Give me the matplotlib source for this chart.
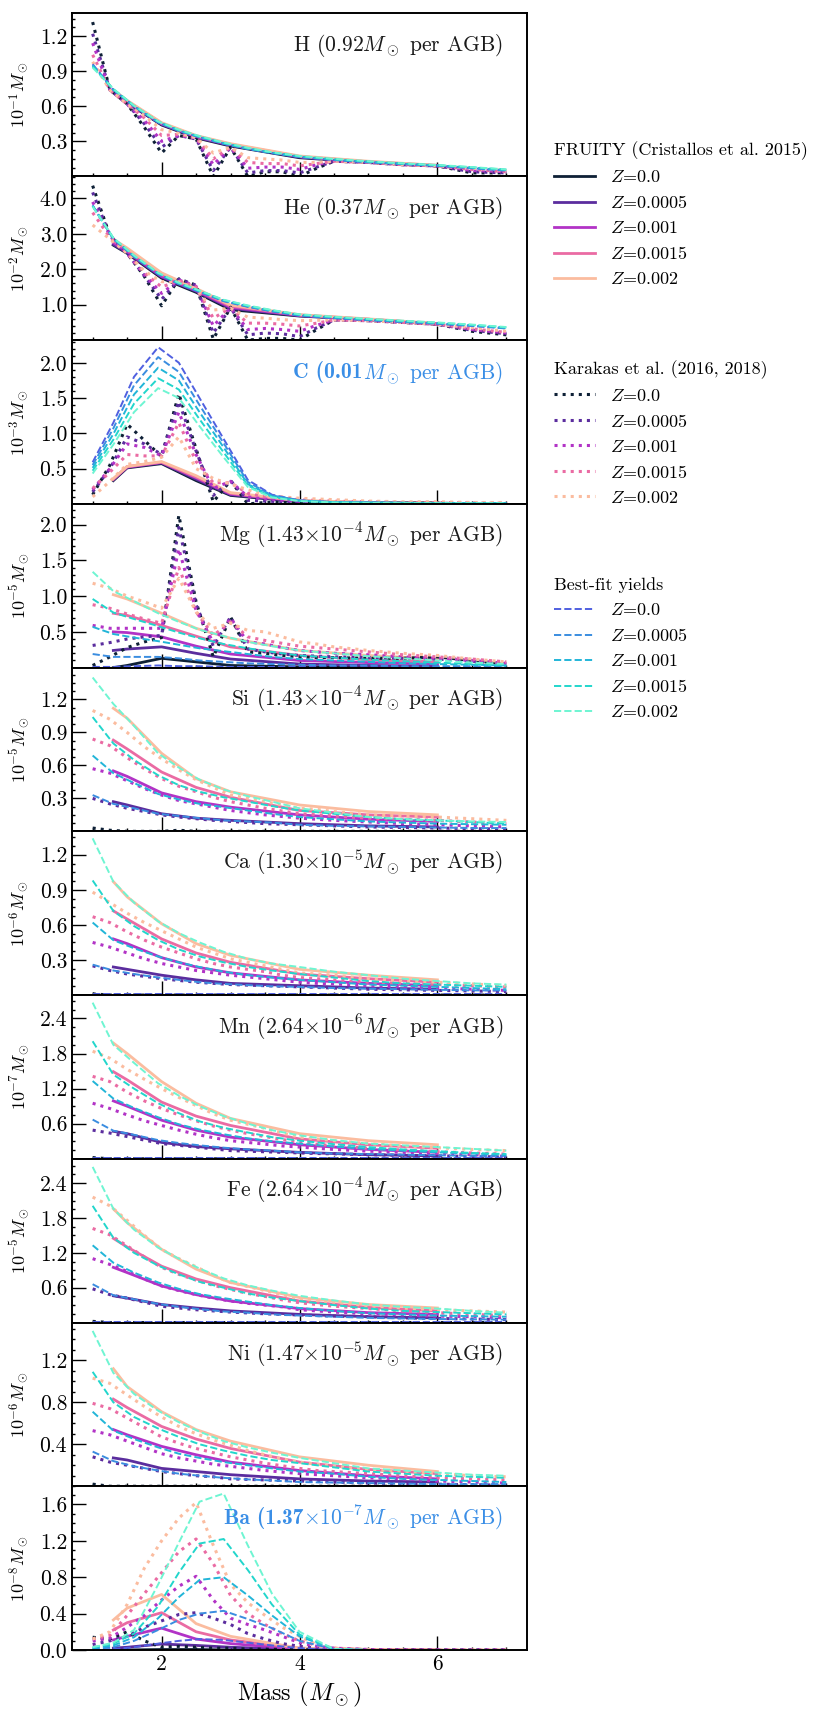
import matplotlib
matplotlib.use("Agg")
import matplotlib.pyplot as plt
from matplotlib.lines import Line2D
from matplotlib.ticker import AutoMinorLocator, FormatStrFormatter

plt.rcParams['font.family'] = ['cmr10', 'DejaVu Serif']
plt.rcParams['mathtext.fontset'] = 'cm'
plt.rcParams['axes.unicode_minus'] = False
plt.rcParams['axes.linewidth'] = 1.4

# mass grids
masses_fruity = [1.3, 1.5, 2.0, 2.5, 3.0, 4.0, 5.0, 6.0]
masses_karakas = [1.0, 1.25, 1.5, 1.75, 2.0, 2.25, 2.5, 2.75, 3.0, 3.25,
                  3.5, 3.75, 4.0, 4.25, 4.5, 5.0, 5.5, 6.0, 6.5, 7.0]
masses_fit = [1.0, 1.3, 1.6, 1.95, 2.25, 2.55, 2.9, 3.25, 3.6, 4.0,
              4.5, 5.0, 5.5, 6.0, 6.5, 7.0]
metallicities = ['0.0', '0.0005', '0.001', '0.0015', '0.002']

# ---- H (10^-1 Msun)
h_fruity = [
    [0.72, 0.63, 0.44, 0.33, 0.26, 0.16, 0.12, 0.09],
    [0.72, 0.63, 0.445, 0.335, 0.265, 0.165, 0.12, 0.09],
    [0.73, 0.64, 0.45, 0.34, 0.27, 0.17, 0.125, 0.09],
    [0.73, 0.645, 0.455, 0.345, 0.275, 0.17, 0.125, 0.095],
    [0.74, 0.65, 0.46, 0.35, 0.28, 0.175, 0.13, 0.095],
]
h_karakas = [
    [1.32, 0.74, 0.62, 0.42, 0.2, 0.35, 0.32, 0.0, 0.25, 0.0, 0.04, 0.04, 0.0, 0.07, 0.13, 0.12, 0.1, 0.09, 0.03, 0.03],
    [1.22, 0.74, 0.62, 0.45, 0.25, 0.35, 0.32, 0.05, 0.25, 0.03, 0.05, 0.05, 0.03, 0.08, 0.13, 0.12, 0.1, 0.09, 0.04, 0.03],
    [1.14, 0.74, 0.62, 0.48, 0.3, 0.35, 0.33, 0.1, 0.25, 0.07, 0.08, 0.08, 0.06, 0.1, 0.13, 0.12, 0.1, 0.09, 0.05, 0.04],
    [1.04, 0.74, 0.62, 0.5, 0.35, 0.36, 0.33, 0.15, 0.25, 0.12, 0.11, 0.11, 0.09, 0.11, 0.13, 0.12, 0.1, 0.09, 0.06, 0.04],
    [0.98, 0.74, 0.62, 0.52, 0.4, 0.37, 0.33, 0.2, 0.25, 0.16, 0.15, 0.14, 0.12, 0.12, 0.13, 0.12, 0.1, 0.09, 0.07, 0.05],
]
h_fit = [
    [0.96, 0.74, 0.6, 0.46, 0.39, 0.335, 0.28, 0.235, 0.2, 0.165, 0.14, 0.12, 0.105, 0.09, 0.07, 0.05],
    [0.95, 0.74, 0.6, 0.465, 0.39, 0.335, 0.28, 0.235, 0.2, 0.168, 0.142, 0.122, 0.107, 0.092, 0.072, 0.052],
    [0.95, 0.745, 0.6, 0.465, 0.395, 0.34, 0.285, 0.24, 0.203, 0.17, 0.145, 0.125, 0.108, 0.094, 0.075, 0.055],
    [0.94, 0.745, 0.605, 0.47, 0.395, 0.34, 0.285, 0.24, 0.205, 0.172, 0.147, 0.127, 0.11, 0.096, 0.078, 0.058],
    [0.93, 0.75, 0.605, 0.47, 0.4, 0.345, 0.29, 0.245, 0.207, 0.175, 0.15, 0.13, 0.112, 0.098, 0.08, 0.06],
]

# ---- He (10^-2 Msun)
he_fruity = [
    [2.68, 2.45, 1.75, 1.35, 0.86, 0.68, 0.58, 0.45],
    [2.7, 2.47, 1.78, 1.38, 0.9, 0.69, 0.58, 0.45],
    [2.75, 2.5, 1.8, 1.4, 0.93, 0.7, 0.59, 0.46],
    [2.8, 2.55, 1.85, 1.43, 0.96, 0.71, 0.59, 0.46],
    [2.85, 2.6, 1.9, 1.46, 0.99, 0.72, 0.6, 0.47],
]
he_karakas = [
    [4.36, 2.95, 2.45, 1.8, 0.97, 1.73, 1.55, 0.03, 0.93, 0.0, 0.05, 0.05, 0.0, 0.3, 0.57, 0.55, 0.5, 0.45, 0.25, 0.15],
    [4.17, 2.95, 2.45, 1.82, 1.15, 1.72, 1.55, 0.2, 0.92, 0.15, 0.2, 0.18, 0.1, 0.35, 0.57, 0.55, 0.5, 0.45, 0.28, 0.18],
    [3.9, 2.95, 2.45, 1.85, 1.32, 1.7, 1.52, 0.4, 0.92, 0.3, 0.33, 0.3, 0.25, 0.42, 0.57, 0.55, 0.5, 0.45, 0.3, 0.2],
    [3.6, 2.9, 2.45, 1.9, 1.5, 1.68, 1.5, 0.62, 0.91, 0.48, 0.48, 0.45, 0.4, 0.48, 0.57, 0.55, 0.5, 0.45, 0.32, 0.22],
    [3.25, 2.85, 2.45, 1.95, 1.65, 1.65, 1.45, 0.85, 0.9, 0.65, 0.62, 0.58, 0.55, 0.56, 0.57, 0.55, 0.5, 0.45, 0.35, 0.25],
]
he_fit = [
    [3.8, 2.85, 2.35, 1.86, 1.58, 1.36, 1.1, 0.94, 0.81, 0.69, 0.62, 0.56, 0.51, 0.46, 0.4, 0.33],
    [3.8, 2.86, 2.36, 1.87, 1.59, 1.37, 1.11, 0.95, 0.82, 0.7, 0.63, 0.57, 0.52, 0.47, 0.41, 0.34],
    [3.79, 2.87, 2.37, 1.88, 1.6, 1.38, 1.12, 0.96, 0.83, 0.71, 0.64, 0.58, 0.53, 0.48, 0.42, 0.35],
    [3.78, 2.88, 2.38, 1.89, 1.61, 1.39, 1.13, 0.97, 0.84, 0.72, 0.65, 0.59, 0.54, 0.49, 0.43, 0.36],
    [3.77, 2.89, 2.39, 1.9, 1.62, 1.4, 1.14, 0.98, 0.85, 0.73, 0.66, 0.6, 0.55, 0.5, 0.44, 0.37],
]

# ---- C (10^-3 Msun)
c_fruity = [
    [0.33, 0.51, 0.57, 0.33, 0.12, 0.03, 0.015, 0.01],
    [0.34, 0.52, 0.58, 0.35, 0.13, 0.035, 0.015, 0.01],
    [0.35, 0.52, 0.59, 0.37, 0.14, 0.04, 0.02, 0.01],
    [0.35, 0.53, 0.59, 0.38, 0.15, 0.04, 0.02, 0.01],
    [0.36, 0.53, 0.6, 0.4, 0.16, 0.05, 0.02, 0.015],
]
c_karakas = [
    [0.13, 0.55, 1.13, 0.9, 0.67, 1.56, 0.78, 0.03, 0.33, 0.0, 0.02, 0.02, 0.01, 0.01, 0.01, 0.01, 0.01, 0.01, 0.0, 0.0],
    [0.17, 0.5, 0.95, 0.85, 0.7, 1.45, 0.75, 0.12, 0.33, 0.05, 0.04, 0.03, 0.02, 0.02, 0.02, 0.01, 0.01, 0.01, 0.01, 0.0],
    [0.2, 0.5, 0.85, 0.8, 0.68, 1.3, 0.7, 0.22, 0.32, 0.1, 0.07, 0.05, 0.04, 0.03, 0.02, 0.02, 0.01, 0.01, 0.01, 0.01],
    [0.22, 0.45, 0.7, 0.68, 0.68, 1.15, 0.6, 0.3, 0.3, 0.15, 0.1, 0.08, 0.06, 0.05, 0.04, 0.03, 0.02, 0.02, 0.01, 0.01],
    [0.1, 0.32, 0.56, 0.6, 0.66, 0.95, 0.5, 0.36, 0.28, 0.2, 0.13, 0.1, 0.08, 0.07, 0.06, 0.04, 0.03, 0.03, 0.02, 0.02],
]
c_fit = [
    [0.59, 1.15, 1.8, 2.22, 2.0, 1.5, 0.92, 0.34, 0.13, 0.05, 0.025, 0.02, 0.015, 0.01, 0.01, 0.01],
    [0.55, 1.07, 1.68, 2.08, 1.87, 1.4, 0.86, 0.31, 0.12, 0.05, 0.025, 0.02, 0.015, 0.01, 0.01, 0.01],
    [0.51, 0.99, 1.55, 1.93, 1.75, 1.3, 0.8, 0.28, 0.11, 0.045, 0.025, 0.02, 0.015, 0.01, 0.01, 0.01],
    [0.47, 0.91, 1.42, 1.78, 1.62, 1.2, 0.73, 0.26, 0.1, 0.04, 0.02, 0.015, 0.015, 0.01, 0.01, 0.01],
    [0.43, 0.84, 1.3, 1.64, 1.5, 1.1, 0.66, 0.24, 0.09, 0.04, 0.02, 0.015, 0.01, 0.01, 0.01, 0.01],
]

# ---- Mg (10^-5 Msun)
mg_fruity = [
    [0.0, 0.03, 0.13, 0.08, 0.03, 0.01, 0.005, 0.005],
    [0.24, 0.26, 0.29, 0.2, 0.12, 0.05, 0.03, 0.02],
    [0.5, 0.49, 0.43, 0.3, 0.19, 0.1, 0.07, 0.05],
    [0.76, 0.73, 0.59, 0.44, 0.29, 0.17, 0.11, 0.08],
    [1.02, 0.96, 0.76, 0.55, 0.41, 0.24, 0.17, 0.12],
]
mg_karakas = [
    [0.03, 0.15, 0.28, 0.36, 0.42, 2.13, 0.92, 0.15, 0.71, 0.22, 0.2, 0.17, 0.15, 0.14, 0.14, 0.13, 0.13, 0.15, 0.1, 0.05],
    [0.31, 0.35, 0.4, 0.43, 0.45, 1.96, 0.88, 0.3, 0.71, 0.26, 0.22, 0.19, 0.17, 0.16, 0.15, 0.14, 0.13, 0.12, 0.09, 0.05],
    [0.59, 0.55, 0.55, 0.55, 0.55, 1.66, 0.8, 0.35, 0.69, 0.36, 0.33, 0.28, 0.24, 0.22, 0.2, 0.18, 0.15, 0.13, 0.1, 0.06],
    [0.88, 0.83, 0.75, 0.68, 0.62, 1.4, 0.78, 0.45, 0.64, 0.43, 0.38, 0.34, 0.3, 0.28, 0.26, 0.22, 0.18, 0.15, 0.12, 0.08],
    [1.18, 1.11, 1.0, 0.92, 0.83, 1.25, 0.78, 0.55, 0.62, 0.52, 0.5, 0.43, 0.36, 0.33, 0.29, 0.24, 0.2, 0.17, 0.12, 0.08],
]
mg_fit = [
    [0.01, 0.01, 0.02, 0.03, 0.02, 0.02, 0.01, 0.01, 0.01, 0.01, 0.005, 0.005, 0.005, 0.005, 0.005, 0.005],
    [0.19, 0.15, 0.15, 0.15, 0.13, 0.1, 0.08, 0.06, 0.05, 0.04, 0.03, 0.03, 0.02, 0.02, 0.02, 0.01],
    [0.57, 0.47, 0.42, 0.37, 0.32, 0.27, 0.23, 0.19, 0.15, 0.12, 0.1, 0.08, 0.06, 0.05, 0.04, 0.03],
    [0.96, 0.77, 0.68, 0.58, 0.49, 0.41, 0.33, 0.27, 0.22, 0.17, 0.14, 0.11, 0.09, 0.07, 0.05, 0.03],
    [1.34, 1.07, 0.93, 0.76, 0.64, 0.53, 0.44, 0.36, 0.3, 0.24, 0.2, 0.16, 0.13, 0.1, 0.07, 0.05],
]

# ---- Si (10^-5 Msun)
si_fruity = [
    [0.0, 0.0, 0.0, 0.0, 0.0, 0.0, 0.0, 0.0],
    [0.27, 0.24, 0.16, 0.12, 0.1, 0.07, 0.05, 0.04],
    [0.55, 0.5, 0.35, 0.27, 0.22, 0.15, 0.11, 0.09],
    [0.83, 0.75, 0.54, 0.4, 0.31, 0.19, 0.15, 0.13],
    [1.12, 1.03, 0.71, 0.48, 0.36, 0.24, 0.18, 0.15],
]
si_karakas = [
    [0.03, 0.01, 0.0, 0.0, 0.0, 0.01, 0.0, 0.0, 0.0, 0.0, 0.0, 0.0, 0.0, 0.0, 0.0, 0.0, 0.0, 0.0, 0.0, 0.0],
    [0.3, 0.25, 0.21, 0.18, 0.15, 0.13, 0.115, 0.1, 0.09, 0.08, 0.07, 0.065, 0.06, 0.055, 0.05, 0.04, 0.035, 0.03, 0.025, 0.02],
    [0.57, 0.53, 0.46, 0.39, 0.33, 0.28, 0.25, 0.22, 0.19, 0.17, 0.15, 0.135, 0.12, 0.11, 0.1, 0.085, 0.07, 0.06, 0.05, 0.04],
    [0.84, 0.78, 0.67, 0.57, 0.48, 0.41, 0.36, 0.31, 0.27, 0.24, 0.21, 0.185, 0.16, 0.15, 0.14, 0.12, 0.11, 0.1, 0.085, 0.07],
    [1.1, 1.02, 0.9, 0.77, 0.66, 0.56, 0.47, 0.4, 0.33, 0.3, 0.27, 0.24, 0.21, 0.2, 0.18, 0.15, 0.14, 0.13, 0.115, 0.1],
]
si_fit = [
    [0.005, 0.005, 0.005, 0.005, 0.005, 0.005, 0.005, 0.005, 0.005, 0.005, 0.005, 0.005, 0.005, 0.005, 0.005, 0.005],
    [0.33, 0.25, 0.21, 0.16, 0.14, 0.12, 0.1, 0.09, 0.08, 0.06, 0.05, 0.045, 0.04, 0.035, 0.03, 0.03],
    [0.69, 0.53, 0.44, 0.34, 0.29, 0.25, 0.22, 0.19, 0.16, 0.13, 0.11, 0.09, 0.08, 0.07, 0.065, 0.06],
    [1.04, 0.8, 0.65, 0.51, 0.42, 0.36, 0.31, 0.27, 0.23, 0.19, 0.16, 0.13, 0.11, 0.1, 0.085, 0.07],
    [1.4, 1.16, 0.96, 0.71, 0.58, 0.47, 0.38, 0.32, 0.27, 0.21, 0.17, 0.13, 0.11, 0.1, 0.09, 0.085],
]

# ---- Ca (10^-6 Msun)
ca_fruity = [
    [0.0, 0.0, 0.0, 0.0, 0.0, 0.0, 0.0, 0.0],
    [0.24, 0.22, 0.17, 0.13, 0.1, 0.08, 0.06, 0.05],
    [0.48, 0.44, 0.32, 0.24, 0.19, 0.13, 0.1, 0.08],
    [0.72, 0.65, 0.48, 0.36, 0.28, 0.18, 0.14, 0.11],
    [0.97, 0.84, 0.61, 0.44, 0.34, 0.22, 0.17, 0.13],
]
ca_karakas = [
    [0.01, 0.0, 0.0, 0.0, 0.0, 0.0, 0.0, 0.0, 0.0, 0.0, 0.0, 0.0, 0.0, 0.0, 0.0, 0.0, 0.0, 0.0, 0.0, 0.0],
    [0.25, 0.21, 0.18, 0.16, 0.14, 0.125, 0.11, 0.1, 0.09, 0.085, 0.08, 0.075, 0.07, 0.065, 0.06, 0.05, 0.045, 0.04, 0.035, 0.03],
    [0.45, 0.41, 0.36, 0.31, 0.27, 0.24, 0.21, 0.19, 0.17, 0.155, 0.14, 0.125, 0.11, 0.1, 0.095, 0.08, 0.07, 0.06, 0.05, 0.04],
    [0.67, 0.62, 0.54, 0.47, 0.41, 0.36, 0.31, 0.27, 0.24, 0.22, 0.2, 0.17, 0.15, 0.14, 0.13, 0.11, 0.1, 0.09, 0.08, 0.07],
    [0.88, 0.79, 0.7, 0.62, 0.55, 0.48, 0.41, 0.36, 0.31, 0.28, 0.25, 0.22, 0.19, 0.18, 0.17, 0.14, 0.12, 0.11, 0.095, 0.08],
]
ca_fit = [
    [0.005, 0.005, 0.005, 0.005, 0.005, 0.005, 0.005, 0.005, 0.005, 0.005, 0.005, 0.005, 0.005, 0.005, 0.005, 0.005],
    [0.26, 0.21, 0.18, 0.15, 0.13, 0.11, 0.095, 0.085, 0.075, 0.07, 0.06, 0.055, 0.05, 0.045, 0.04, 0.04],
    [0.62, 0.47, 0.4, 0.33, 0.28, 0.24, 0.2, 0.17, 0.15, 0.13, 0.11, 0.09, 0.08, 0.07, 0.06, 0.05],
    [0.98, 0.72, 0.59, 0.47, 0.39, 0.33, 0.28, 0.24, 0.21, 0.18, 0.15, 0.12, 0.1, 0.09, 0.08, 0.07],
    [1.34, 0.97, 0.79, 0.63, 0.53, 0.45, 0.37, 0.31, 0.27, 0.24, 0.2, 0.17, 0.14, 0.12, 0.1, 0.09],
]

# ---- Mn (10^-7 Msun)
mn_fruity = [
    [0.0, 0.0, 0.0, 0.0, 0.0, 0.0, 0.0, 0.0],
    [0.47, 0.43, 0.28, 0.21, 0.17, 0.11, 0.07, 0.05],
    [0.99, 0.9, 0.66, 0.49, 0.37, 0.24, 0.16, 0.11],
    [1.49, 1.35, 0.97, 0.73, 0.57, 0.34, 0.24, 0.18],
    [1.98, 1.8, 1.32, 0.95, 0.69, 0.43, 0.31, 0.24],
]
mn_karakas = [
    [0.02, 0.0, 0.0, 0.0, 0.0, 0.0, 0.0, 0.0, 0.0, 0.0, 0.0, 0.0, 0.0, 0.0, 0.0, 0.0, 0.0, 0.0, 0.0, 0.0],
    [0.49, 0.44, 0.38, 0.32, 0.26, 0.23, 0.2, 0.17, 0.14, 0.13, 0.12, 0.11, 0.1, 0.09, 0.085, 0.07, 0.06, 0.05, 0.04, 0.03],
    [0.95, 0.86, 0.75, 0.65, 0.57, 0.49, 0.42, 0.36, 0.31, 0.28, 0.25, 0.22, 0.2, 0.18, 0.16, 0.13, 0.11, 0.09, 0.07, 0.04],
    [1.41, 1.32, 1.14, 0.99, 0.86, 0.75, 0.65, 0.56, 0.49, 0.43, 0.38, 0.33, 0.28, 0.25, 0.22, 0.18, 0.15, 0.12, 0.1, 0.08],
    [1.84, 1.72, 1.53, 1.36, 1.2, 1.05, 0.91, 0.77, 0.66, 0.59, 0.52, 0.44, 0.37, 0.34, 0.31, 0.26, 0.22, 0.19, 0.16, 0.14],
]
mn_fit = [
    [0.005, 0.005, 0.005, 0.005, 0.005, 0.005, 0.005, 0.005, 0.005, 0.005, 0.005, 0.005, 0.005, 0.005, 0.005, 0.005],
    [0.67, 0.48, 0.41, 0.32, 0.27, 0.23, 0.19, 0.16, 0.14, 0.11, 0.09, 0.08, 0.07, 0.06, 0.05, 0.05],
    [1.33, 1.03, 0.87, 0.71, 0.59, 0.5, 0.42, 0.35, 0.3, 0.26, 0.21, 0.17, 0.14, 0.11, 0.09, 0.07],
    [2.01, 1.44, 1.2, 0.95, 0.78, 0.64, 0.53, 0.45, 0.37, 0.31, 0.25, 0.2, 0.16, 0.13, 0.1, 0.08],
    [2.67, 1.95, 1.64, 1.29, 1.08, 0.9, 0.73, 0.6, 0.49, 0.4, 0.32, 0.26, 0.23, 0.2, 0.17, 0.14],
]

# ---- Fe (10^-5 Msun)
fe_fruity = [
    [0.0, 0.0, 0.0, 0.0, 0.0, 0.0, 0.0, 0.0],
    [0.46, 0.42, 0.31, 0.25, 0.2, 0.14, 0.1, 0.08],
    [0.95, 0.86, 0.63, 0.48, 0.37, 0.24, 0.17, 0.14],
    [1.45, 1.3, 0.97, 0.75, 0.6, 0.37, 0.26, 0.2],
    [1.96, 1.72, 1.26, 0.92, 0.69, 0.43, 0.31, 0.25],
]
fe_karakas = [
    [0.02, 0.0, 0.0, 0.0, 0.0, 0.0, 0.0, 0.0, 0.0, 0.0, 0.0, 0.0, 0.0, 0.0, 0.0, 0.0, 0.0, 0.0, 0.0, 0.0],
    [0.58, 0.48, 0.42, 0.35, 0.28, 0.25, 0.22, 0.2, 0.18, 0.165, 0.15, 0.14, 0.13, 0.12, 0.11, 0.1, 0.08, 0.07, 0.06, 0.05],
    [1.1, 1.0, 0.88, 0.75, 0.63, 0.55, 0.48, 0.42, 0.37, 0.33, 0.3, 0.27, 0.22, 0.2, 0.18, 0.15, 0.13, 0.11, 0.1, 0.08],
    [1.62, 1.51, 1.32, 1.13, 0.95, 0.83, 0.73, 0.64, 0.57, 0.5, 0.45, 0.39, 0.34, 0.31, 0.28, 0.24, 0.2, 0.17, 0.14, 0.12],
    [2.16, 2.01, 1.76, 1.5, 1.26, 1.1, 0.96, 0.81, 0.69, 0.62, 0.55, 0.48, 0.41, 0.38, 0.35, 0.29, 0.25, 0.22, 0.2, 0.18],
]
fe_fit = [
    [0.005, 0.005, 0.005, 0.005, 0.005, 0.005, 0.005, 0.005, 0.005, 0.005, 0.005, 0.005, 0.005, 0.005, 0.005, 0.005],
    [0.66, 0.47, 0.4, 0.32, 0.27, 0.23, 0.19, 0.17, 0.14, 0.12, 0.1, 0.08, 0.07, 0.06, 0.055, 0.05],
    [1.33, 1.03, 0.86, 0.69, 0.58, 0.49, 0.42, 0.36, 0.3, 0.25, 0.2, 0.16, 0.14, 0.12, 0.11, 0.1],
    [2.01, 1.46, 1.2, 0.98, 0.83, 0.7, 0.6, 0.5, 0.43, 0.37, 0.3, 0.24, 0.2, 0.18, 0.16, 0.14],
    [2.68, 1.96, 1.6, 1.29, 1.1, 0.93, 0.76, 0.64, 0.55, 0.46, 0.38, 0.31, 0.27, 0.24, 0.2, 0.17],
]

# ---- Ni (10^-6 Msun)
ni_fruity = [
    [0.0, 0.0, 0.0, 0.0, 0.0, 0.0, 0.0, 0.0],
    [0.27, 0.25, 0.17, 0.14, 0.11, 0.07, 0.05, 0.04],
    [0.54, 0.49, 0.38, 0.3, 0.23, 0.15, 0.1, 0.07],
    [0.83, 0.75, 0.57, 0.45, 0.36, 0.23, 0.16, 0.12],
    [1.12, 0.95, 0.71, 0.54, 0.43, 0.28, 0.2, 0.14],
]
ni_karakas = [
    [0.02, 0.0, 0.0, 0.0, 0.0, 0.0, 0.0, 0.0, 0.0, 0.0, 0.0, 0.0, 0.0, 0.0, 0.0, 0.0, 0.0, 0.0, 0.0, 0.0],
    [0.28, 0.23, 0.2, 0.17, 0.14, 0.12, 0.1, 0.09, 0.07, 0.065, 0.06, 0.055, 0.05, 0.045, 0.04, 0.03, 0.025, 0.02, 0.015, 0.01],
    [0.53, 0.49, 0.43, 0.37, 0.31, 0.27, 0.24, 0.21, 0.19, 0.17, 0.15, 0.135, 0.12, 0.11, 0.1, 0.08, 0.07, 0.05, 0.04, 0.03],
    [0.79, 0.74, 0.65, 0.56, 0.47, 0.41, 0.36, 0.32, 0.28, 0.25, 0.22, 0.195, 0.17, 0.15, 0.14, 0.12, 0.1, 0.08, 0.07, 0.06],
    [1.03, 0.98, 0.87, 0.76, 0.66, 0.57, 0.5, 0.44, 0.39, 0.34, 0.3, 0.26, 0.23, 0.21, 0.19, 0.16, 0.14, 0.12, 0.1, 0.09],
]
ni_fit = [
    [0.005, 0.005, 0.005, 0.005, 0.005, 0.005, 0.005, 0.005, 0.005, 0.005, 0.005, 0.005, 0.005, 0.005, 0.005, 0.005],
    [0.33, 0.24, 0.19, 0.15, 0.12, 0.1, 0.08, 0.065, 0.055, 0.04, 0.035, 0.03, 0.025, 0.02, 0.02, 0.02],
    [0.71, 0.53, 0.45, 0.37, 0.31, 0.27, 0.23, 0.2, 0.17, 0.14, 0.12, 0.09, 0.07, 0.06, 0.05, 0.04],
    [1.09, 0.8, 0.66, 0.55, 0.47, 0.4, 0.34, 0.29, 0.25, 0.22, 0.18, 0.14, 0.12, 0.1, 0.09, 0.08],
    [1.48, 1.08, 0.88, 0.72, 0.61, 0.52, 0.43, 0.37, 0.32, 0.27, 0.22, 0.17, 0.15, 0.13, 0.11, 0.1],
]

# ---- Ba (10^-8 Msun)
ba_fruity = [
    [0.0, 0.0, 0.005, 0.005, 0.0, 0.0, 0.0, 0.0],
    [0.02, 0.03, 0.065, 0.05, 0.03, 0.005, 0.0, 0.0],
    [0.11, 0.15, 0.24, 0.12, 0.07, 0.01, 0.0, 0.0],
    [0.22, 0.3, 0.41, 0.2, 0.11, 0.02, 0.005, 0.0],
    [0.33, 0.46, 0.61, 0.29, 0.15, 0.02, 0.005, 0.0],
]
ba_karakas = [
    [0.14, 0.12, 0.2, 0.1, 0.03, 0.04, 0.03, 0.02, 0.02, 0.01, 0.01, 0.005, 0.005, 0.0, 0.0, 0.0, 0.0, 0.0, 0.0, 0.0],
    [0.06, 0.1, 0.15, 0.25, 0.32, 0.39, 0.41, 0.35, 0.28, 0.18, 0.12, 0.07, 0.04, 0.02, 0.01, 0.005, 0.0, 0.0, 0.0, 0.0],
    [0.1, 0.13, 0.25, 0.38, 0.55, 0.7, 0.81, 0.55, 0.35, 0.28, 0.22, 0.15, 0.08, 0.04, 0.02, 0.005, 0.0, 0.0, 0.0, 0.0],
    [0.12, 0.16, 0.38, 0.62, 0.85, 1.08, 1.22, 0.95, 0.6, 0.4, 0.28, 0.18, 0.1, 0.05, 0.02, 0.005, 0.0, 0.0, 0.0, 0.0],
    [0.12, 0.2, 0.5, 0.9, 1.2, 1.45, 1.62, 1.15, 0.72, 0.52, 0.38, 0.25, 0.15, 0.06, 0.02, 0.005, 0.0, 0.0, 0.0, 0.0],
]
ba_fit = [
    [0.0, 0.01, 0.03, 0.07, 0.1, 0.12, 0.11, 0.08, 0.05, 0.02, 0.0, 0.0, 0.0, 0.0, 0.0, 0.0],
    [0.01, 0.03, 0.1, 0.22, 0.33, 0.4, 0.43, 0.34, 0.24, 0.1, 0.01, 0.0, 0.0, 0.0, 0.0, 0.0],
    [0.02, 0.05, 0.14, 0.35, 0.58, 0.77, 0.8, 0.6, 0.38, 0.15, 0.01, 0.0, 0.0, 0.0, 0.0, 0.0],
    [0.03, 0.07, 0.18, 0.48, 0.85, 1.17, 1.22, 0.88, 0.5, 0.17, 0.01, 0.0, 0.0, 0.0, 0.0, 0.0],
    [0.03, 0.08, 0.22, 0.72, 1.18, 1.63, 1.72, 1.15, 0.62, 0.2, 0.01, 0.0, 0.0, 0.0, 0.0, 0.0],
]

# panel titles: (bold part, regular part); bold part only for highlighted panels
title_bold = ['', '', 'C (0.01', '', '', '', '', '', '', 'Ba (1.37']
title_rest = [
    r'H (0.92$M_\odot$ per AGB)',
    r'He (0.37$M_\odot$ per AGB)',
    r'$M_\odot$ per AGB)',
    r'Mg (1.43$\times10^{-4}M_\odot$ per AGB)',
    r'Si (1.43$\times10^{-4}M_\odot$ per AGB)',
    r'Ca (1.30$\times10^{-5}M_\odot$ per AGB)',
    r'Mn (2.64$\times10^{-6}M_\odot$ per AGB)',
    r'Fe (2.64$\times10^{-4}M_\odot$ per AGB)',
    r'Ni (1.47$\times10^{-5}M_\odot$ per AGB)',
    r'$\times10^{-7}M_\odot$ per AGB)',
]
exponents = [-1, -2, -3, -5, -5, -6, -7, -5, -6, -8]
ytops = [1.4, 4.62, 2.32, 2.29, 1.49, 1.4, 2.8, 2.82, 1.56, 1.8]
yticks = [
    [0.3, 0.6, 0.9, 1.2],
    [1.0, 2.0, 3.0, 4.0],
    [0.5, 1.0, 1.5, 2.0],
    [0.5, 1.0, 1.5, 2.0],
    [0.3, 0.6, 0.9, 1.2],
    [0.3, 0.6, 0.9, 1.2],
    [0.6, 1.2, 1.8, 2.4],
    [0.6, 1.2, 1.8, 2.4],
    [0.4, 0.8, 1.2],
    [0.0, 0.4, 0.8, 1.2, 1.6],
]

fruity_all = [h_fruity, he_fruity, c_fruity, mg_fruity, si_fruity,
              ca_fruity, mn_fruity, fe_fruity, ni_fruity, ba_fruity]
karakas_all = [h_karakas, he_karakas, c_karakas, mg_karakas, si_karakas,
               ca_karakas, mn_karakas, fe_karakas, ni_karakas, ba_karakas]
fit_all = [h_fit, he_fit, c_fit, mg_fit, si_fit,
           ca_fit, mn_fit, fe_fit, ni_fit, ba_fit]

colors_model = ['#0e2036', '#5b2d9e', '#b233c6', '#ea6ba3', '#fbbc9f']
colors_fit = ['#5060e0', '#3a8de0', '#22b5d8', '#22d6cc', '#6ef5d2']
highlight_color = '#3a8ee6'

fig = plt.figure(figsize=(8.3, 17.18), dpi=100)
axes = fig.subplots(10, 1, sharex=True)
fig.subplots_adjust(left=0.0867, right=0.635, top=0.9926, bottom=0.0396, hspace=0)
renderer = fig.canvas.get_renderer()

for i, ax in enumerate(axes):
    for z in range(5):
        ax.plot(masses_fruity, fruity_all[i][z], color=colors_model[z], lw=2.0, ls='-')
    for z in range(5):
        ax.plot(masses_karakas, karakas_all[i][z], color=colors_model[z], lw=2.2, ls=':')
    for z in range(5):
        ax.plot(masses_fit, fit_all[i][z], color=colors_fit[z], lw=1.4, ls='--')

    ax.set_xlim(0.7, 7.3)
    ax.set_ylim(0, ytops[i])
    ax.set_yticks(yticks[i])
    ax.yaxis.set_major_formatter(FormatStrFormatter('%.1f'))
    ax.yaxis.set_minor_locator(AutoMinorLocator())
    ax.xaxis.set_minor_locator(AutoMinorLocator())
    ax.tick_params(which='both', direction='in', labelsize=15.5)
    ax.tick_params(which='major', length=10, width=1.0)
    ax.tick_params(which='minor', length=2.5, width=1.0)
    ax.set_ylabel(r'$10^{%d}M_\odot$' % exponents[i], fontsize=13)
    ax.yaxis.set_label_coords(-0.09, 0.5)

    color = highlight_color if title_bold[i] else '#1a1a1a'
    rest = ax.text(0.947, 0.768, title_rest[i], transform=ax.transAxes,
                   ha='right', va='baseline', fontsize=15.5, color=color)
    if title_bold[i]:
        bb = rest.get_window_extent(renderer)
        x_left = ax.transAxes.inverted().transform((bb.x0, bb.y0))[0]
        ax.text(x_left, 0.768, title_bold[i], transform=ax.transAxes,
                ha='right', va='baseline', fontsize=15.5, color=color,
                family='cmb10')

axes[-1].set_xticks([2, 4, 6])
axes[-1].set_xlabel(r'Mass ($M_\odot$)', fontsize=17.5)


# legends, one block per data set
def make_legend(title, colors, ls, lw, y):
    handles = [Line2D([], [], color=c, ls=ls, lw=lw) for c in colors]
    labels = [r'$Z$=' + m for m in metallicities]
    leg = fig.legend(handles, labels, title=title, loc='upper left',
                     bbox_to_anchor=(0.668, y), frameon=False, fontsize=13,
                     title_fontsize=13, borderpad=0, borderaxespad=0,
                     handlelength=2.25, handletextpad=0.8, labelspacing=0.5,
                     alignment='left')
    return leg


make_legend('FRUITY (Cristallos et al. 2015)', colors_model, '-', 2.0, 0.9176)
make_legend('Karakas et al. (2016, 2018)', colors_model, ':', 2.2, 0.7905)
make_legend('Best-fit yields', colors_fit, '--', 1.4, 0.6640)

fig.savefig('out.png', dpi=100)
